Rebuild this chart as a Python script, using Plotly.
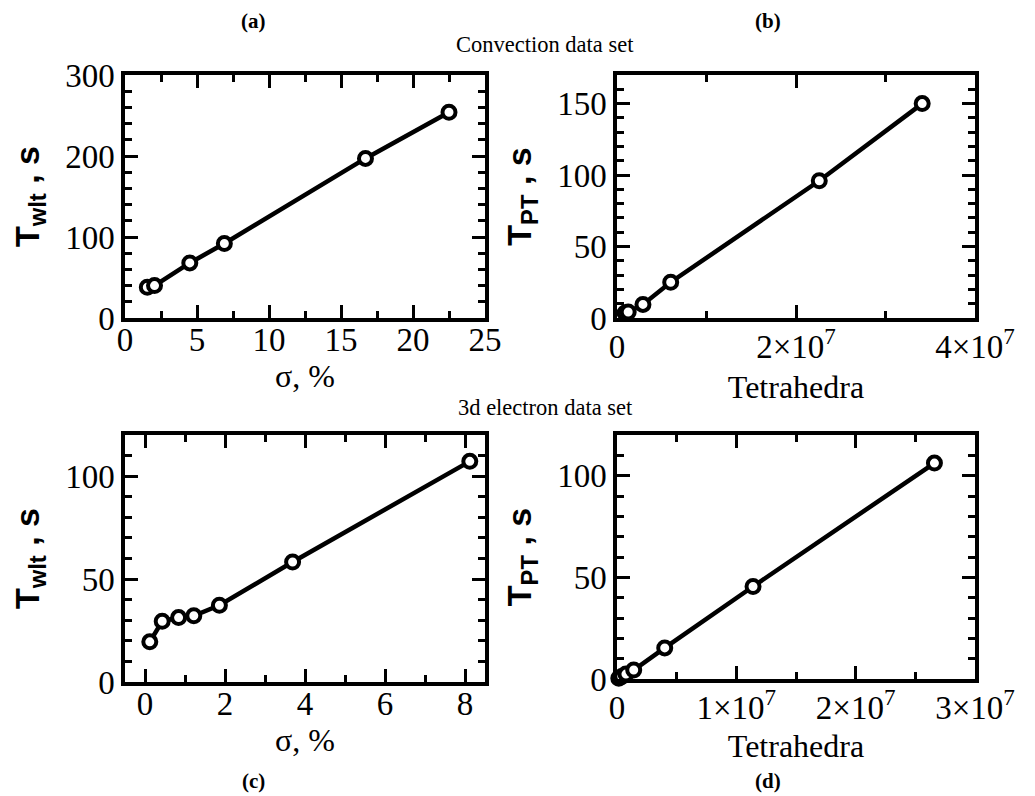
import plotly.graph_objects as go

# ---------------- data ----------------
# (a) Convection data set: wavelet time vs sigma
a_sigma = [1.55, 2.05, 4.5, 6.9, 16.7, 22.5]
a_time = [38, 40, 68, 92, 197, 254]
# (b) Convection data set: PT time vs tetrahedra
b_tetra = [0.9e6, 1.25e6, 2.9e6, 6.0e6, 2.26e7, 3.41e7]
b_time = [3.5, 4.2, 9.5, 25, 96, 150]
# (c) 3d electron data set: wavelet time vs sigma
c_sigma = [0.12, 0.43, 0.84, 1.22, 1.86, 3.69, 8.12]
c_time = [19.5, 29.5, 31.3, 32.2, 37.3, 58.3, 107.2]
# (d) 3d electron data set: PT time vs tetrahedra
d_tetra = [1.5e5, 4.0e5, 7.5e5, 1.4e6, 4.0e6, 1.14e7, 2.66e7]
d_time = [0.4, 1.2, 2.4, 4.4, 15.3, 45.5, 106.2]

# tick labels
b_xtickvals = [0, 2e7, 4e7]
b_xticktext = ["0", "2×10<sup>7</sup>", "4×10<sup>7</sup>"]
d_xtickvals = [0, 1e7, 2e7, 3e7]
d_xticktext = ["0", "1×10<sup>7</sup>", "2×10<sup>7</sup>", "3×10<sup>7</sup>"]

panel_labels = ["(a)", "(b)", "(c)", "(d)"]
section_titles = ["Convection data set", "3d electron data set"]
x_titles = ["σ, %", "Tetrahedra", "σ, %", "Tetrahedra"]
y_titles = ["T<sub>wlt</sub> , s", "T<sub>PT</sub> , s", "T<sub>wlt</sub> , s", "T<sub>PT</sub> , s"]

W, H = 1035, 796
SERIF = "Liberation Serif"
SANS = "Liberation Sans"


def px_x(p):
    return p / W


def px_y(p):
    return 1 - p / H


def trace(x, y, xa, ya):
    return go.Scatter(
        x=x, y=y, xaxis=xa, yaxis=ya, mode="lines+markers",
        line=dict(color="black", width=4.5),
        marker=dict(symbol="circle", size=13, color="white",
                    line=dict(color="black", width=4)),
        cliponaxis=False, showlegend=False,
    )


fig = go.Figure()
fig.add_trace(trace(a_sigma, a_time, "x", "y"))
fig.add_trace(trace(b_tetra, b_time, "x2", "y2"))
fig.add_trace(trace(c_sigma, c_time, "x3", "y3"))
fig.add_trace(trace(d_tetra, d_time, "x4", "y4"))


def axis(rng, domain, anchor, minor_dtick, dtick=None, tickvals=None, ticktext=None,
         title=None, is_y=False, label_shift=0, title_standoff=2):
    d = dict(
        range=rng, domain=domain, anchor=anchor, automargin=False,
        showline=True, linecolor="black", linewidth=3.5, mirror="allticks",
        ticks="inside", ticklen=13, tickwidth=3, tickcolor="black",
        showgrid=False, zeroline=False,
        tickfont=dict(family=SERIF, size=33, color="black"),
        ticklabelstandoff=label_shift,
        minor=dict(ticks="inside", ticklen=7, tickwidth=3, tickcolor="black",
                   dtick=minor_dtick, showgrid=False),
    )
    if tickvals is not None:
        d.update(tickmode="array", tickvals=tickvals, ticktext=ticktext)
    else:
        d.update(tickmode="linear", tick0=0, dtick=dtick)
    if title is not None:
        if is_y:
            d["title"] = dict(text="<b>" + title + "</b>",
                              font=dict(family=SANS, size=34, color="black"),
                              standoff=16)
        else:
            d["title"] = dict(text=title,
                              font=dict(family=SERIF, size=32, color="black"),
                              standoff=title_standoff)
    return d


xa_dom = [px_x(125), px_x(485)]
xb_dom = [px_x(617), px_x(975)]
ytop_dom = [px_y(318), px_y(75)]
yc_dom = [px_y(682), px_y(435)]
yd_dom = [px_y(679), px_y(435)]

fig.update_layout(
    template="none",
    width=W, height=H,
    margin=dict(l=0, r=0, t=0, b=0, autoexpand=False),
    paper_bgcolor="white", plot_bgcolor="white",
    xaxis=axis([0, 25], xa_dom, "y", 2.5, dtick=5, title=x_titles[0],
               label_shift=-10, title_standoff=1),
    yaxis=axis([0, 300], ytop_dom, "x", 20, dtick=100, title=y_titles[0], is_y=True),
    xaxis2=axis([0, 4e7], xb_dom, "y2", 1e7, tickvals=b_xtickvals, ticktext=b_xticktext,
                title=x_titles[1], label_shift=-3, title_standoff=12),
    yaxis2=axis([0, 170], ytop_dom, "x2", 10, dtick=50, title=y_titles[1], is_y=True),
    xaxis3=axis([-0.5, 8.5], xa_dom, "y3", 1, dtick=2, title=x_titles[2],
                label_shift=-10, title_standoff=0),
    yaxis3=axis([0, 120], yc_dom, "x3", 10, dtick=50, title=y_titles[2], is_y=True),
    xaxis4=axis([0, 3e7], xb_dom, "y4", 5e6, tickvals=d_xtickvals, ticktext=d_xticktext,
                title=x_titles[3], label_shift=-3, title_standoff=10),
    yaxis4=axis([0, 120], yd_dom, "x4", 10, dtick=50, title=y_titles[3], is_y=True),
)

label_font = dict(family=SERIF, size=21, color="black")
ann = [
    dict(text="<b>" + panel_labels[0] + "</b>", x=px_x(253), y=px_y(21)),
    dict(text="<b>" + panel_labels[1] + "</b>", x=px_x(768), y=px_y(21)),
    dict(text="<b>" + panel_labels[2] + "</b>", x=px_x(253), y=px_y(781)),
    dict(text="<b>" + panel_labels[3] + "</b>", x=px_x(768), y=px_y(781)),
]
for a in ann:
    a.update(xref="paper", yref="paper", showarrow=False, font=label_font,
             xanchor="center", yanchor="middle")
    fig.add_annotation(**a)

for txt, yy in zip(section_titles, [45, 407]):
    fig.add_annotation(text=txt, x=px_x(545), y=px_y(yy), xref="paper", yref="paper",
                       showarrow=False, xanchor="center", yanchor="middle",
                       font=dict(family=SERIF, size=22.5, color="black"))

fig.write_html("out.html", config={"displayModeBar": False},
               post_script="document.body.style.margin='0';")
